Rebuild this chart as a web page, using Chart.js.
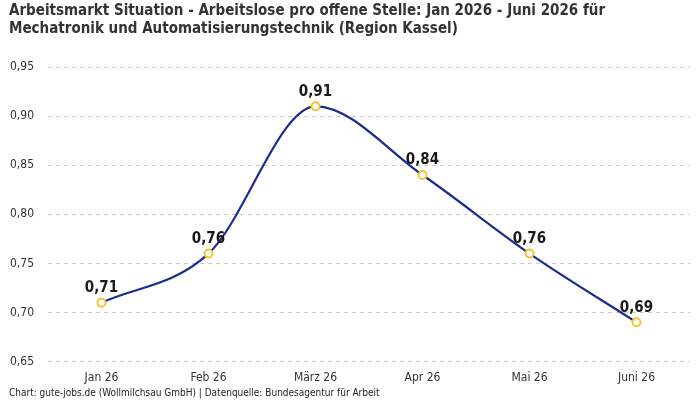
<!DOCTYPE html>
<html>
<head>
<meta charset="utf-8">
<script src="https://cdn.jsdelivr.net/npm/chart.js@4/dist/chart.umd.min.js"></script>
<style>
    html, body { margin: 0; padding: 0; background: #fff; }
    #wrap { width: 700px; height: 400px; position: relative; }
</style>
</head>
<body>
<div id="wrap"><canvas id="chart" width="700" height="400"></canvas></div>
<script>
// chart data
var months = ['Jan 26', 'Feb 26', 'März 26', 'Apr 26', 'Mai 26', 'Juni 26']
var ratio = [0.71, 0.76, 0.91, 0.84, 0.76, 0.69]
var yTicks = [0.65, 0.70, 0.75, 0.80, 0.85, 0.90, 0.95]

var titleLines = [
    'Arbeitsmarkt Situation - Arbeitslose pro offene Stelle: Jan 2026 - Juni 2026 für',
    'Mechatronik und Automatisierungstechnik (Region Kassel)'
]
var footerText = 'Chart: gute-jobs.de (Wollmilchsau GmbH) | Datenquelle: Bundesagentur für Arbeit'

var fontFam = '"Liberation Sans Narrow", "DejaVu Sans Condensed", "Roboto", sans-serif'

function fmt(v) {
    return v.toFixed(2).replace('.', ',')
}

// value labels above each point
var valueLabels = {
    id: 'valueLabels',
    afterDatasetsDraw: function(chart) {
        var ctx = chart.ctx
        var meta = chart.getDatasetMeta(0)
        ctx.save()
        ctx.font = 'bold 15px ' + fontFam
        ctx.fillStyle = '#1a1a1a'
        ctx.textAlign = 'center'
        ctx.textBaseline = 'bottom'
        meta.data.forEach(function(pt, i) {
            ctx.fillText(fmt(ratio[i]), pt.x, pt.y - 7)
        })
        ctx.restore()
    }
}

// title at the top, source line at the bottom
var texts = {
    id: 'texts',
    afterDraw: function(chart) {
        var ctx = chart.ctx
        ctx.save()
        ctx.textAlign = 'left'
        ctx.textBaseline = 'middle'
        ctx.fillStyle = '#333'
        ctx.font = 'bold 15px ' + fontFam
        titleLines.forEach(function(line, i) {
            ctx.fillText(line, 9, 11 + i * 18.5)
        })
        ctx.font = '10px ' + fontFam
        ctx.fillStyle = '#222'
        ctx.fillText(footerText, 9, 393)
        ctx.restore()
    }
}

var ctx = document.getElementById('chart').getContext('2d')
var chart = new Chart(ctx, {
    type: 'line',
    data: {
        labels: months,
        datasets: [{
            data: ratio,
            borderColor: '#1b2d8e',
            borderWidth: 2.2,
            cubicInterpolationMode: 'monotone',
            pointRadius: 4,
            pointBorderWidth: 2,
            pointBackgroundColor: '#fff',
            pointBorderColor: '#f6c232'
        }]
    },
    options: {
        responsive: false,
        animation: false,
        layout: { padding: { left: 0, right: 10, top: 67, bottom: 14 } },
        plugins: {
            legend: { display: false },
            tooltip: { enabled: false }
        },
        scales: {
            x: {
                offset: true,
                grid: { display: false },
                border: { display: false },
                ticks: { color: '#333', font: { family: fontFam, size: 12 }, padding: 1 }
            },
            y: {
                min: 0.65,
                max: 0.95,
                afterBuildTicks: function(axis) {
                    axis.ticks = yTicks.map(function(v) { return { value: v } })
                },
                afterFit: function(axis) { axis.width = 48 },
                grid: { color: '#cccccc', drawTicks: false },
                border: { display: false, dash: [4, 4] },
                ticks: {
                    color: '#333',
                    padding: 14,
                    font: { family: fontFam, size: 12 },
                    callback: function(v) { return fmt(v) }
                }
            }
        }
    },
    plugins: [valueLabels, texts]
})
</script>
</body>
</html>
